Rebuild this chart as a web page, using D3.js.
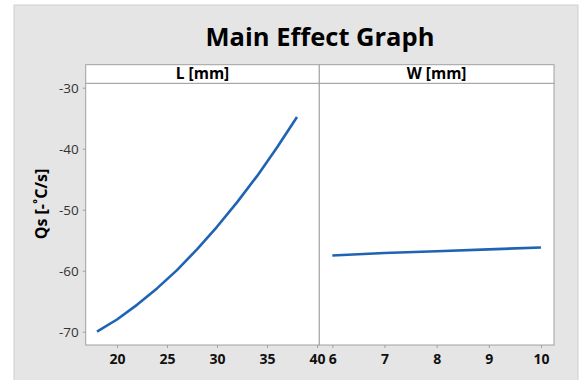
<!DOCTYPE html>
<html>
<head>
<meta charset="utf-8">
<script src="https://cdn.jsdelivr.net/npm/d3@7"></script>
<style>
body { margin: 0; background: #fff; }
text { font-family: "Open Sans", "Noto Sans", sans-serif; }
</style>
</head>
<body>
<div id="chart"></div>
<script>
// ====== data ======
const lLevels = [18, 20, 22, 24, 26, 28, 30, 32, 34, 36, 38];
const lMeans = [-70.0, -68.0, -65.6, -62.9, -59.9, -56.5, -52.8, -48.8, -44.5, -39.8, -34.8];
const wLevels = [6, 7, 8, 9, 10];
const wMeans = [-57.5, -57.1, -56.8, -56.5, -56.2];
const lTicks = [20, 25, 30, 35, 40];
const wTicks = [6, 7, 8, 9, 10];
const yTicks = [-30, -40, -50, -60, -70];
const factorNames = ['L [mm]', 'W [mm]'];

// ====== size ======
var W = 581, H = 380;
var plotTop = 83.3, plotBottom = 345, stripTop = 64.7;
var panelEdges = [85.7, 319.3, 554];
var lineColor = '#1f63b4';

var svg = d3.select('#chart').append('svg')
  .attr('width', W).attr('height', H);

// gray background
svg.append('rect')
  .attr('x', 14).attr('y', 5).attr('width', 564).attr('height', 380)
  .attr('fill', '#e5e5e5').attr('stroke', '#cfcfcf');

svg.append('text')
  .attr('x', 320).attr('y', 46)
  .attr('text-anchor', 'middle')
  .style('font-size', '25.5px').style('font-weight', 'bold')
  .text('Main Effect Graph');

var y = d3.scaleLinear()
  .domain([-72.18, -29.28])
  .range([plotBottom, plotTop]);

var panels = [
  { name: factorNames[0], levels: lLevels, means: lMeans, ticks: lTicks, domain: [16.87, 40.23] },
  { name: factorNames[1], levels: wLevels, means: wMeans, ticks: wTicks, domain: [5.75, 10.25] }
];

panels.forEach(function(p, i) {
  var x0 = panelEdges[i], x1 = panelEdges[i + 1];
  var x = d3.scaleLinear().domain(p.domain).range([x0, x1]);

  // plot area
  svg.append('rect')
    .attr('x', x0).attr('y', plotTop)
    .attr('width', x1 - x0).attr('height', plotBottom - plotTop)
    .attr('fill', '#fff').attr('stroke', '#a0a0a0');
  // strip
  svg.append('rect')
    .attr('x', x0).attr('y', stripTop)
    .attr('width', x1 - x0).attr('height', plotTop - stripTop)
    .attr('fill', '#fff').attr('stroke', '#a0a0a0');
  svg.append('text')
    .attr('x', (x0 + x1) / 2).attr('y', plotTop - 4)
    .attr('text-anchor', 'middle')
    .style('font-size', '15.5px').style('font-weight', 'bold')
    .text(p.name);

  // x axis
  var gx = svg.append('g')
    .attr('transform', 'translate(0,' + plotBottom + ')')
    .call(d3.axisBottom(x).tickValues(p.ticks).tickSize(3).tickPadding(6).tickFormat(function(d){ return String(d); }));
  gx.select('.domain').remove();
  gx.selectAll('line').attr('stroke', '#a0a0a0');
  gx.selectAll('text')
    .style('font-size', '14px').style('font-weight', 'bold')
    .style('font-family', '"Open Sans", sans-serif')
    .attr('fill', '#111');

  // the line
  var pts = p.levels.map(function(v, k) { return [x(v), y(p.means[k])]; });
  svg.append('path')
    .attr('d', d3.line()(pts))
    .attr('fill', 'none')
    .attr('stroke', lineColor)
    .attr('stroke-width', 2.6)
    .attr('stroke-linejoin', 'round');
});

// y axis
var gy = svg.append('g')
  .attr('transform', 'translate(' + panelEdges[0] + ',0)')
  .call(d3.axisLeft(y).tickValues(yTicks).tickSize(3).tickPadding(4).tickFormat(function(d){ return String(d); }));
gy.select('.domain').remove();
gy.selectAll('line').attr('stroke', '#a0a0a0');
gy.selectAll('text')
  .style('font-size', '13.5px')
  .style('font-family', '"Open Sans", sans-serif')
  .attr('fill', '#333');

svg.append('text')
  .attr('transform', 'translate(46.5,204) rotate(-90)')
  .attr('text-anchor', 'middle')
  .style('font-size', '16px').style('font-weight', 'bold')
  .text('Qs [-˚C/s]');
</script>
</body>
</html>
